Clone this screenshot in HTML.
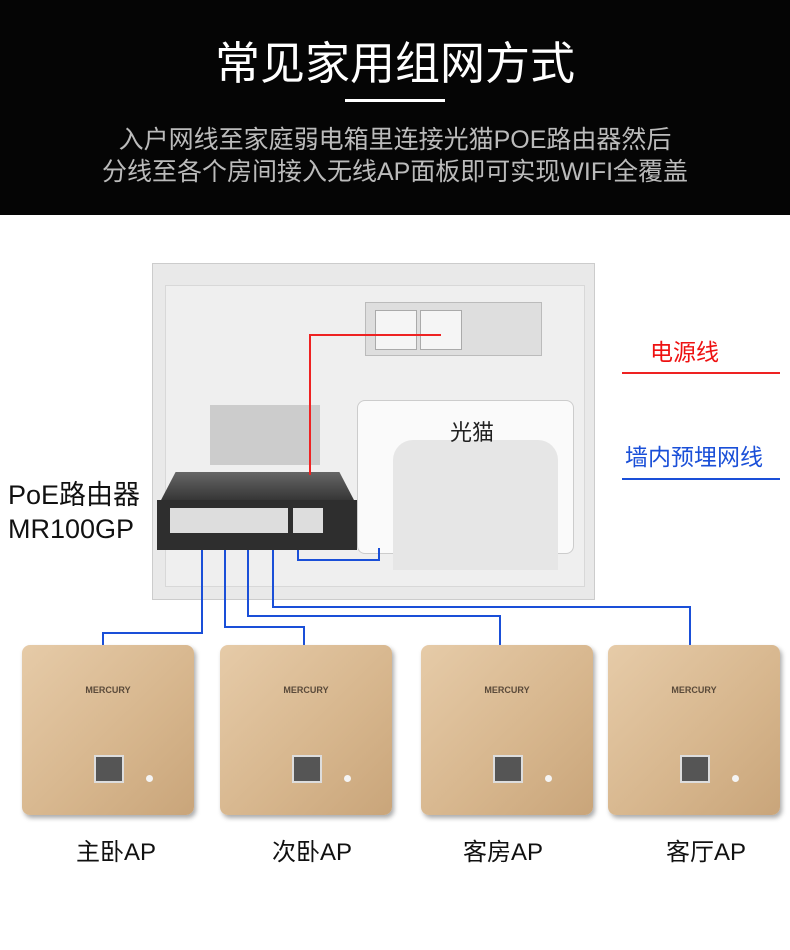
<!DOCTYPE html><html><head><meta charset="utf-8"><style>
body{margin:0;width:790px;height:950px;background:#fff;position:relative;overflow:hidden;font-family:"Liberation Sans","Noto Sans CJK SC",sans-serif}
.a{position:absolute}
.hdr{left:0;top:0;width:790px;height:215px;background:#050505}
.t{color:#fff;font-size:45px;width:790px;text-align:center;top:27px;left:0}
.s{color:#bbb;font-size:25px;width:790px;text-align:center;left:0}
.ap{width:172px;height:170px;top:645px;border-radius:8px;background:linear-gradient(135deg,#e6cba8,#d6b58c 60%,#c9a57a);box-shadow:2px 3px 5px #aaa}
.ap .m{position:absolute;top:40px;width:100%;text-align:center;font-size:9px;font-weight:bold;color:#5a4a3a}
.ap .p{position:absolute;left:72px;top:110px;width:26px;height:24px;background:#555;border:2px solid #ddd}
.ap .d{position:absolute;left:124px;top:130px;width:7px;height:7px;border-radius:50%;background:#f4f4f4}
.lb{top:832px;font-size:24px;color:#111;width:160px;text-align:center}
.bl{background:#1a4fd8}
</style></head><body>
<div class="a hdr"></div>
<div class="a t">常见家用组网方式</div>
<div class="a" style="left:345px;top:99px;width:100px;height:3px;background:#fff"></div>
<div class="a s" style="top:120px">入户网线至家庭弱电箱里连接光猫POE路由器然后</div>
<div class="a s" style="top:152px">分线至各个房间接入无线AP面板即可实现WIFI全覆盖</div>

<div class="a" style="left:152px;top:263px;width:443px;height:337px;background:#e9e9e9;border:1px solid #ccc;box-sizing:border-box"></div>
<div class="a" style="left:165px;top:285px;width:418px;height:300px;background:#efefef;border:1px solid #d8d8d8"></div>
<div class="a" style="left:365px;top:302px;width:175px;height:52px;background:#dedede;border:1px solid #bbb"></div>
<div class="a" style="left:420px;top:310px;width:40px;height:38px;background:#f5f5f5;border:1px solid #aaa"></div>
<div class="a" style="left:375px;top:310px;width:40px;height:38px;background:#f5f5f5;border:1px solid #aaa"></div>
<div class="a" style="left:210px;top:405px;width:110px;height:60px;background:#ccc"></div>
<div class="a" style="left:357px;top:400px;width:215px;height:152px;background:#fafafa;border:1px solid #ccc;border-radius:8px"></div>
<div class="a" style="left:393px;top:440px;width:165px;height:130px;background:#e6e6e6;border-radius:20px 20px 0 0"></div>
<div class="a" style="left:450px;top:415px;font-size:22px;color:#222">光猫</div>
<div class="a" style="left:160px;top:472px;width:195px;height:30px;background:linear-gradient(#666,#333);clip-path:polygon(8% 0,92% 0,100% 100%,0 100%)"></div>
<div class="a" style="left:157px;top:500px;width:200px;height:50px;background:#2e2e2e"></div>
<div class="a" style="left:170px;top:508px;width:118px;height:25px;background:#ddd"></div>
<div class="a" style="left:293px;top:508px;width:30px;height:25px;background:#ddd"></div>

<div class="a" style="left:309px;top:335px;width:2px;height:140px;background:#e22"></div>
<div class="a" style="left:309px;top:334px;width:132px;height:2px;background:#e22"></div>

<div class="a bl" style="left:297px;top:550px;width:2px;height:11px"></div>
<div class="a bl" style="left:297px;top:559px;width:83px;height:2px"></div>
<div class="a bl" style="left:378px;top:548px;width:2px;height:13px"></div>

<div class="a bl" style="left:201px;top:550px;width:2px;height:84px"></div>
<div class="a bl" style="left:102px;top:632px;width:101px;height:2px"></div>
<div class="a bl" style="left:102px;top:632px;width:2px;height:14px"></div>
<div class="a bl" style="left:224px;top:550px;width:2px;height:78px"></div>
<div class="a bl" style="left:224px;top:626px;width:81px;height:2px"></div>
<div class="a bl" style="left:303px;top:626px;width:2px;height:20px"></div>
<div class="a bl" style="left:247px;top:550px;width:2px;height:67px"></div>
<div class="a bl" style="left:247px;top:615px;width:254px;height:2px"></div>
<div class="a bl" style="left:499px;top:615px;width:2px;height:31px"></div>
<div class="a bl" style="left:272px;top:550px;width:2px;height:58px"></div>
<div class="a bl" style="left:272px;top:606px;width:419px;height:2px"></div>
<div class="a bl" style="left:689px;top:606px;width:2px;height:40px"></div>

<div class="a" style="left:650px;top:333px;font-size:23px;color:#e11">电源线</div>
<div class="a" style="left:622px;top:372px;width:158px;height:2px;background:#e22"></div>
<div class="a" style="left:625px;top:438px;font-size:23px;color:#1a4fd8">墙内预埋网线</div>
<div class="a" style="left:622px;top:478px;width:158px;height:2px;background:#1a4fd8"></div>
<div class="a" style="left:8px;top:478px;font-size:27px;color:#111;line-height:34px">PoE路由器<br>MR100GP</div>

<div class="a ap" style="left:22px"><div class="m">MERCURY</div><div class="p"></div><div class="d"></div></div>
<div class="a ap" style="left:220px"><div class="m">MERCURY</div><div class="p"></div><div class="d"></div></div>
<div class="a ap" style="left:421px"><div class="m">MERCURY</div><div class="p"></div><div class="d"></div></div>
<div class="a ap" style="left:608px"><div class="m">MERCURY</div><div class="p"></div><div class="d"></div></div>
<div class="a lb" style="left:36px">主卧AP</div>
<div class="a lb" style="left:232px">次卧AP</div>
<div class="a lb" style="left:423px">客房AP</div>
<div class="a lb" style="left:626px">客厅AP</div>
</body></html>
